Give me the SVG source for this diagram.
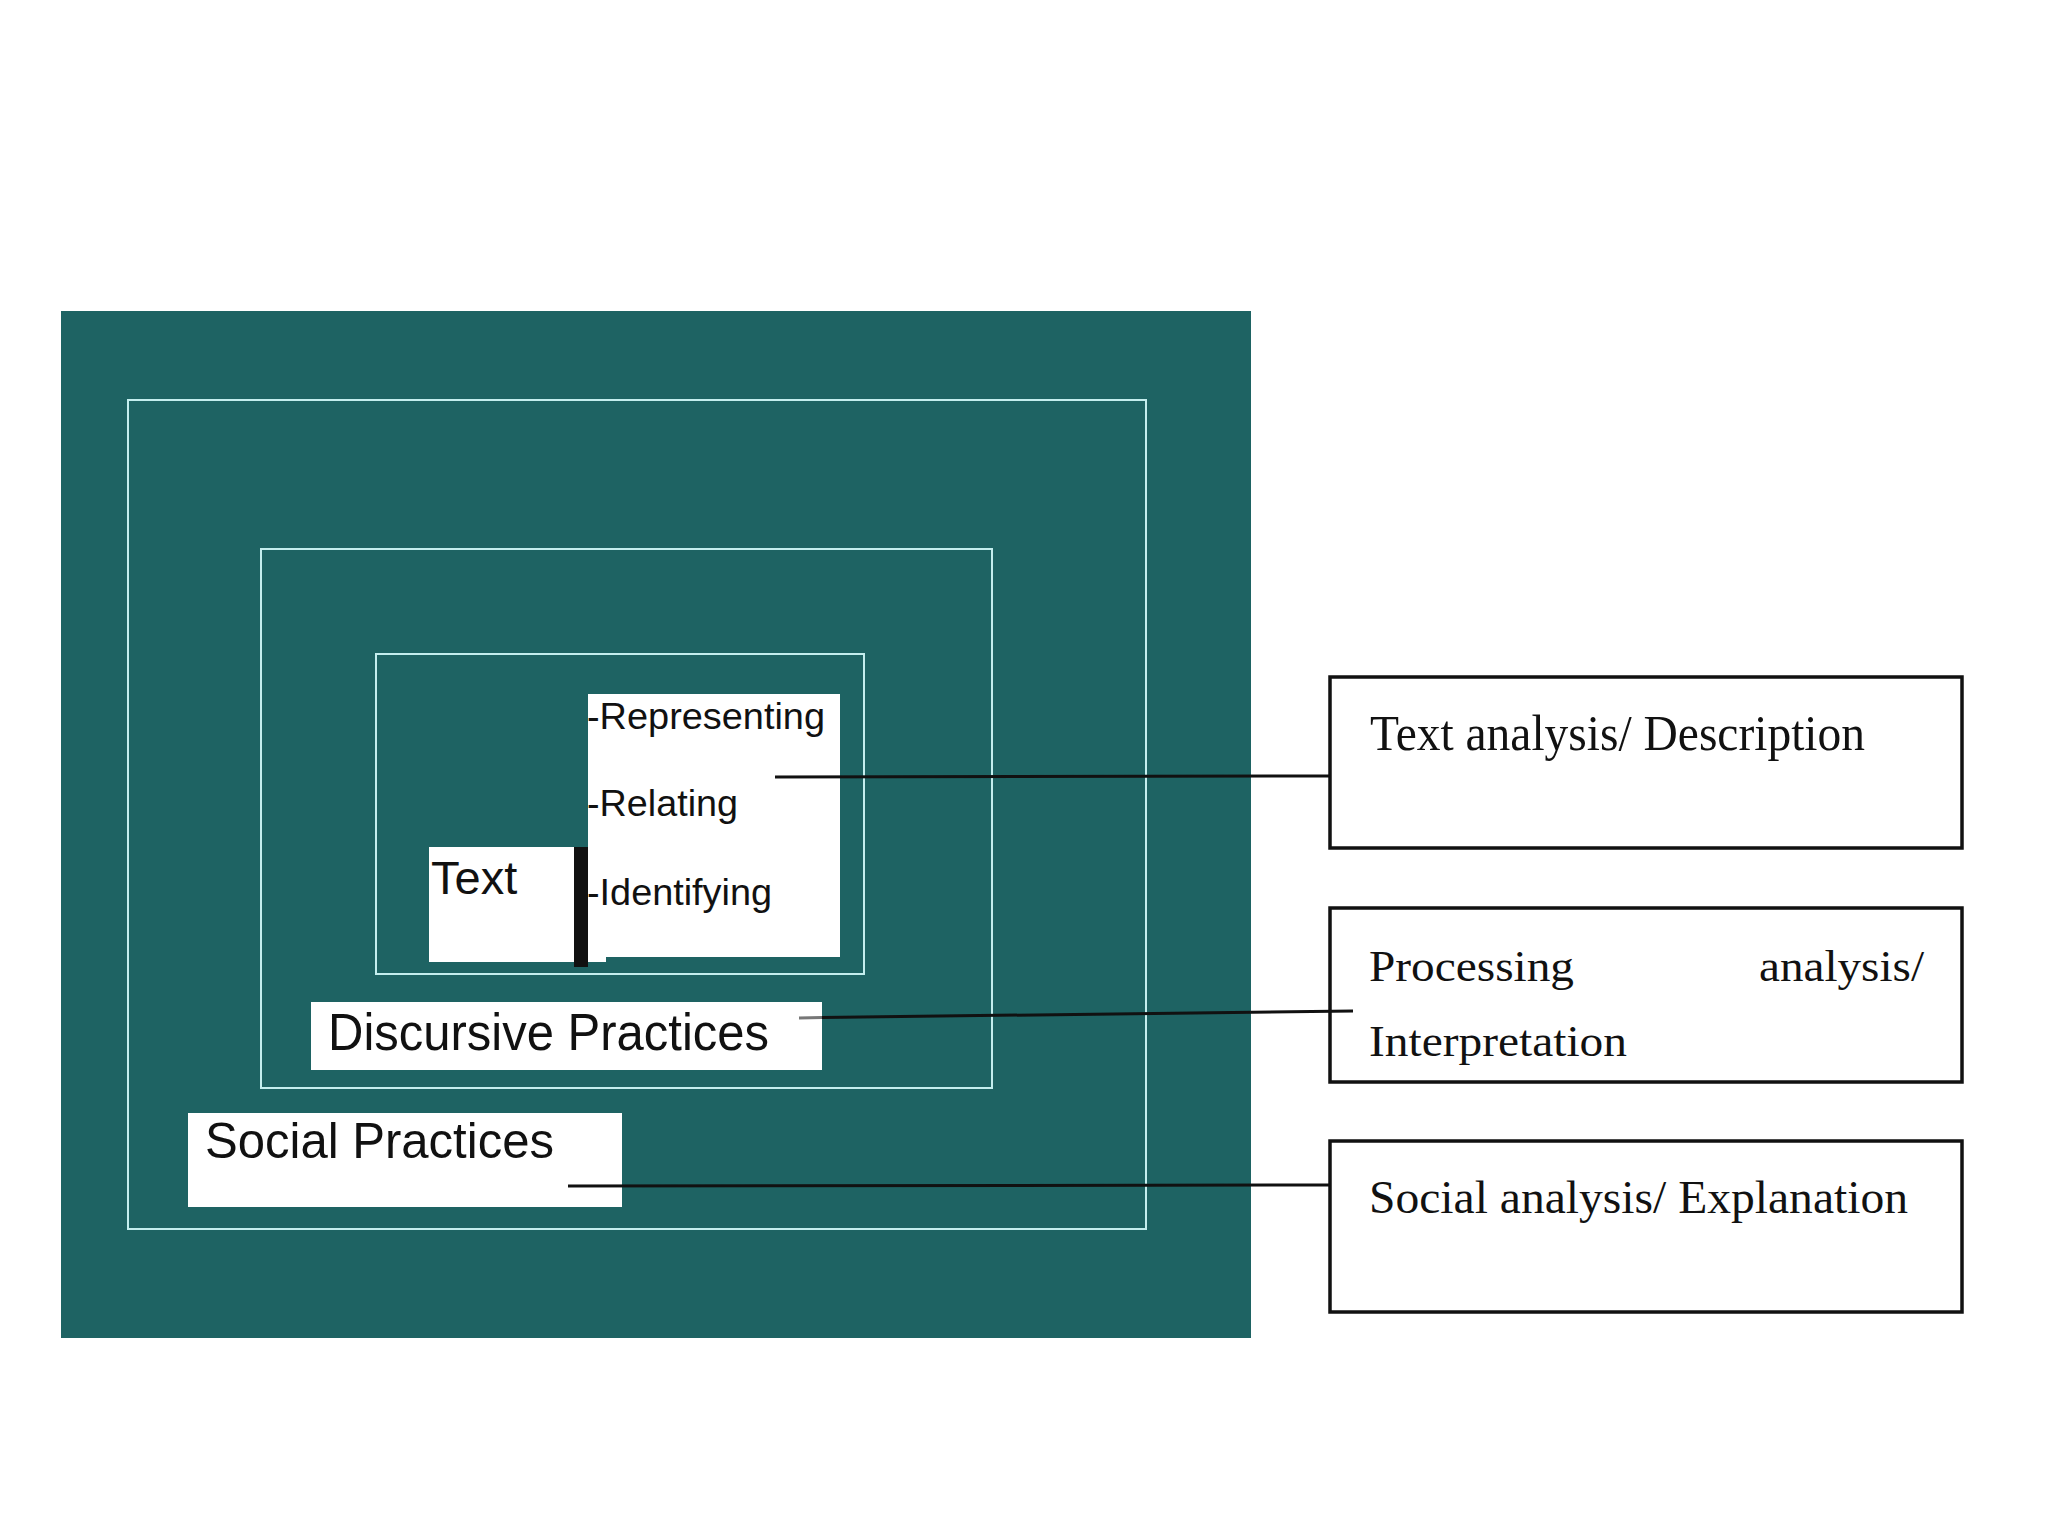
<svg xmlns="http://www.w3.org/2000/svg" width="2048" height="1536" viewBox="0 0 2048 1536">
<style>
.teal{fill:#1e6363}
.frame{fill:none;stroke:#c4eeee;stroke-width:2}
.wbox{fill:#ffffff}
.sans{font-family:"Liberation Sans",Arial,sans-serif;fill:#111}
.serif{font-family:"Liberation Serif","Times New Roman",serif;fill:#111}
.box{fill:#ffffff;stroke:#111;stroke-width:3.5}
.conn{stroke:#111;stroke-width:3;fill:none}
</style>
<rect width="2048" height="1536" fill="#ffffff"/>
<g id="background">
<rect class="teal" x="61" y="311" width="1190" height="1027"/>
<rect class="frame" x="128" y="400" width="1018" height="829"/>
<rect class="frame" x="261" y="549" width="731" height="539"/>
<rect class="frame" x="376" y="654" width="488" height="320"/>
</g>
<g id="node-list">
<rect class="wbox" x="588" y="694" width="252" height="263"/>
<rect class="wbox" x="588" y="950" width="18" height="12"/>
<text class="sans" x="587" y="729" font-size="36" textLength="238" lengthAdjust="spacingAndGlyphs">-Representing</text>
<text class="sans" x="587" y="816" font-size="36" textLength="151" lengthAdjust="spacingAndGlyphs">-Relating</text>
<text class="sans" x="587" y="905" font-size="36" textLength="185" lengthAdjust="spacingAndGlyphs">-Identifying</text>
</g>
<g id="node-text">
<rect class="wbox" x="429" y="847" width="146" height="115"/>
<rect x="574" y="847" width="14" height="120" fill="#111"/>
<text class="sans" x="431" y="894" font-size="47">Text</text>
</g>
<g id="node-discursive">
<rect class="wbox" x="311" y="1002" width="511" height="68"/>
<text class="sans" x="328" y="1050" font-size="52" textLength="441" lengthAdjust="spacingAndGlyphs">Discursive Practices</text>
</g>
<g id="node-social">
<rect class="wbox" x="188" y="1113" width="434" height="94"/>
<text class="sans" x="205" y="1158" font-size="50" textLength="349" lengthAdjust="spacingAndGlyphs">Social Practices</text>
</g>
<g id="node-text-analysis">
<rect class="box" x="1330" y="677" width="632" height="171"/>
<text class="serif" x="1370" y="750" font-size="50" textLength="495" lengthAdjust="spacingAndGlyphs">Text analysis/ Description</text>
</g>
<g id="node-processing">
<rect class="box" x="1330" y="908" width="632" height="174"/>
<text class="serif" x="1369" y="981" font-size="44" textLength="205" lengthAdjust="spacingAndGlyphs">Processing</text>
<text class="serif" x="1759" y="981" font-size="44" textLength="165" lengthAdjust="spacingAndGlyphs">analysis/</text>
<text class="serif" x="1369" y="1056" font-size="44" textLength="258" lengthAdjust="spacingAndGlyphs">Interpretation</text>
</g>
<g id="node-social-analysis">
<rect class="box" x="1330" y="1141" width="632" height="171"/>
<text class="serif" x="1369" y="1213" font-size="46" textLength="539" lengthAdjust="spacingAndGlyphs">Social analysis/ Explanation</text>
</g>
<g id="connectors">
<line class="conn" x1="775" y1="777" x2="1330" y2="776"/>
<line x1="799" y1="1018" x2="822" y2="1017.5" stroke="#777" stroke-width="3"/>
<line class="conn" x1="822" y1="1017.5" x2="1353" y2="1011"/>
<line class="conn" x1="568" y1="1186" x2="1330" y2="1185"/>
</g>
</svg>
